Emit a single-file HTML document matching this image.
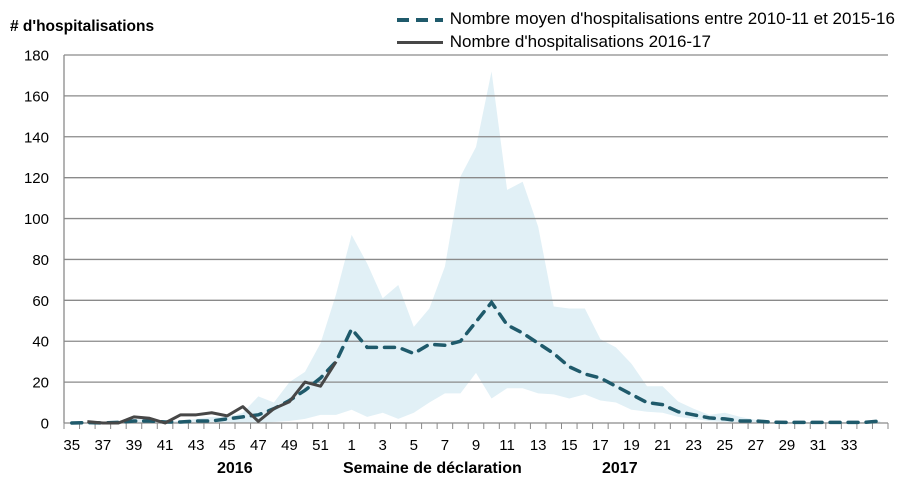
<!DOCTYPE html>
<html><head><meta charset="utf-8"><style>
body{margin:0;background:#fff;}
svg{display:block;font-family:"Liberation Sans",sans-serif;}
</style></head><body>
<svg id="c" width="908" height="488"></svg>
<script>
const weeks=[35,36,37,38,39,40,41,42,43,44,45,46,47,48,49,50,51,52,1,2,3,4,5,6,7,8,9,10,11,12,13,14,15,16,17,18,19,20,21,22,23,24,25,26,27,28,29,30,31,32,33,34,35];
const meanValues=[0,0.2,0,0.3,1,1,0.5,0.5,1,1,2,3,4,7,11,16,22,30,46,37,37,37,34,38.5,38,40,49.5,59,48,44,39,34,27.5,24,22,18,14,10,9,5.5,4,2.5,2,1,1,0.4,0.3,0.3,0.3,0.3,0.3,0.3,1];
const upperValues=[0,0,0,1,2,2,1,1,2,3,3,5,13,10,20,25,39,63,92,78,61,67.5,47,56,76.5,120.5,135,172,114,118,96,57,56,56,41,37,29,18,18,10.5,7,4,5,3,1.5,0.5,0.5,0.5,0.5,0.5,0.5,0.5,1];
const lowerValues=[0,0,0,0,0,0,0,0,0,0,0,0,0,0.5,1,2,4,4,6.5,3,5,2,5,10,14.5,14.5,24.5,12,17,17,14.5,14,12,14,11,10,6.5,5.5,5,3,2,1,0.5,0.3,0.2,0,0,0,0,0,0,0,0];
const currentValues=[null,0.7,0,0,3,2.3,0,4,4,5,3.5,8,0.8,7,10.4,20,18,30];
const yTicks=[0,20,40,60,80,100,120,140,160,180];
const xLabels=[35,37,39,41,43,45,47,49,51,1,3,5,7,9,11,13,15,17,19,21,23,25,27,29,31,33];

const NS="http://www.w3.org/2000/svg";
const svg=document.getElementById('c');
const X0=64,X1=888,Y0=423,Y1=55,n=weeks.length,cw=(X1-X0)/n;
const xs=i=>X0+cw*(i+0.5);
const ys=v=>Y0-(v/180)*(Y0-Y1);
function mk(t,a,p){const e=document.createElementNS(NS,t);for(const k in a)e.setAttribute(k,a[k]);(p||svg).appendChild(e);return e;}

let pts=upperValues.map((v,i)=>xs(i)+","+ys(v));
for(let i=n-1;i>=0;i--)pts.push(xs(i)+","+ys(lowerValues[i]));
const band=mk('polygon',{points:pts.join(' '),fill:'#e1f0f6'});



yTicks.forEach(v=>{
  if(v>0){const g=mk('line',{x1:X0,x2:X1,y1:ys(v),y2:ys(v),stroke:'#8a8a8a','stroke-width':1.3});
  
  }
  const t=mk('text',{x:49,y:ys(v)+5.5,'text-anchor':'end','font-size':15,fill:'#000'});t.textContent=v;
  
  
});
const ax=mk('line',{x1:X0,x2:X0,y1:Y1,y2:Y0,stroke:'#8a8a8a','stroke-width':1.3});


const xa=mk('line',{x1:X0,x2:X1,y1:Y0,y2:Y0,stroke:'#8a8a8a','stroke-width':1.3});


for(let i=0;i<=n;i++){mk('line',{x1:X0+cw*i,x2:X0+cw*i,y1:Y0,y2:Y0+6,stroke:'#8a8a8a','stroke-width':1});}
weeks.forEach((w,i)=>{
  if(i<n-1&&xLabels.includes(w)&&!(i>17&&w>=35)){
    const t=mk('text',{x:xs(i),y:450,'text-anchor':'middle','font-size':15});t.textContent=w;
    
    
  }
});

const mp=meanValues.map((v,i)=>(i?'L':'M')+xs(i)+','+ys(v)).join(' ');
const ml=mk('path',{d:mp,fill:'none',stroke:'#1f5a6b','stroke-width':3.5,'stroke-dasharray':'10,8','stroke-linecap':'round'});



let cp='',first=true;
currentValues.forEach((v,i)=>{if(v===null)return;cp+=(first?'M':'L')+xs(i)+','+ys(v)+' ';first=false;});
const cl=mk('path',{d:cp,fill:'none',stroke:'#474747','stroke-width':3,'stroke-linejoin':'round'});


</script>
<div style="position:absolute;left:0;top:0;width:908px;height:488px;font-family:'Liberation Sans',sans-serif;pointer-events:none">
<div style="position:absolute;left:10px;top:18px;font-size:15.5px;font-weight:bold">
# d'hospitalisations</div>
<div style="position:absolute;left:397px;top:9px;font-size:17px;white-space:nowrap">
<span style="display:inline-block;vertical-align:middle;width:46px;height:4px;background:repeating-linear-gradient(90deg,#1f5a6b 0 12px,transparent 12px 19px)"></span>
<span style="margin-left:2px">Nombre moyen d'hospitalisations entre 2010-11 et 2015-16</span></div>
<div style="position:absolute;left:397px;top:32px;font-size:17px;white-space:nowrap">
<span style="display:inline-block;vertical-align:middle;width:46px;height:3px;background:#474747"></span>
<span style="margin-left:2px">Nombre d'hospitalisations 2016-17</span></div>
<div style="position:absolute;left:217px;top:460px;font-size:16px;font-weight:bold">2016</div>
<div style="position:absolute;left:343px;top:460px;font-size:16px;font-weight:bold">Semaine de déclaration</div>
<div style="position:absolute;left:602px;top:460px;font-size:16px;font-weight:bold">2017</div>
</div>
</body></html>
